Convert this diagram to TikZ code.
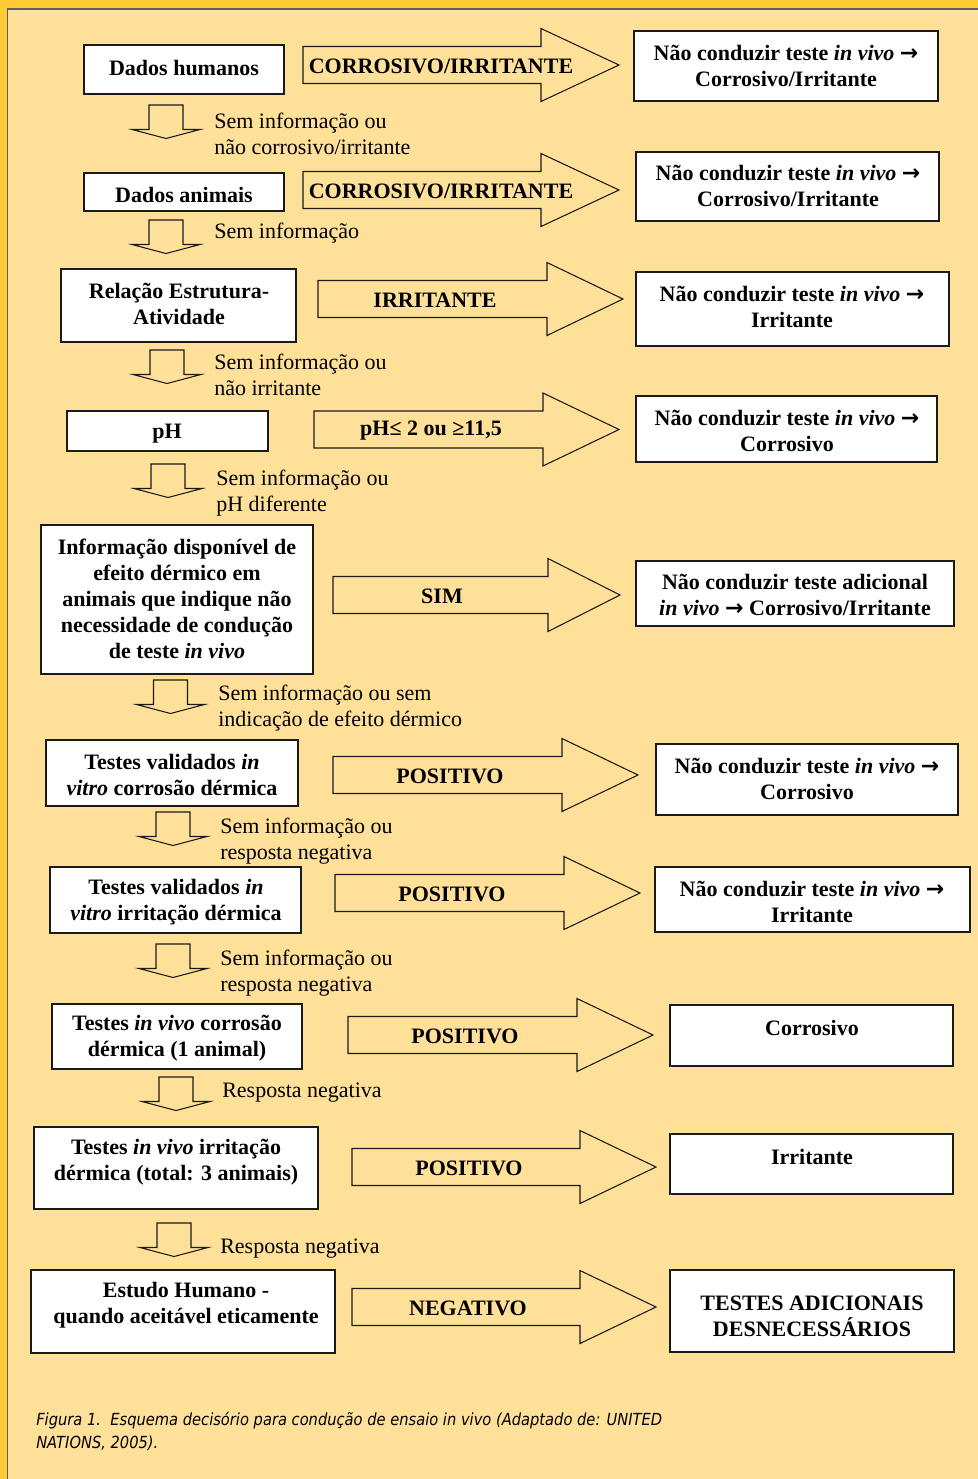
\documentclass[tikz,border=0pt]{standalone}
\usepackage{fontspec}
\setmainfont{Liberation Serif}
\newfontfamily\capfont[FakeStretch=0.88]{DejaVu Sans}
\newfontfamily\arrfont{DejaVu Sans}
\definecolor{panel}{HTML}{FFE099}
\definecolor{frameyellow}{HTML}{FFCC33}
\definecolor{ink}{HTML}{1A1A1A}
\newcommand\arr{{\arrfont\bfseries →}}
\newcommand\iv{\textit{in vivo}}
\tikzset{
  box/.style={draw=ink, line width=0.9pt, fill=white, inner sep=0pt},
  btxt/.style={font=\fontsize{16.5}{19.5}\selectfont\bfseries, align=center, inner sep=0pt, text=black},
  ltxt/.style={font=\fontsize{16.5}{19.5}\selectfont, align=left, anchor=west, inner sep=0pt, text=black},
  blk/.style={draw=ink, line width=0.8pt, line join=miter},
  captxt/.style={font=\capfont\itshape\fontsize{12.5}{17.25}\selectfont, align=left, anchor=north west, inner sep=0pt, text=black},
}
% box: name, x1, y1, x2, y2
\newcommand\bx[5]{\node[box, minimum width={(#4-#2)*0.75pt}, minimum height={(#5-#3)*0.75pt}] (#1) at ({(#2+#4)/2},{(#3+#5)/2}) {};}
% right block arrow: name, xleft, xheadbase, xtip, ycenter, text x, text
\newcommand\rarr[7]{%
  \draw[blk] (#2,#5-18.5) -- (#3,#5-18.5) -- (#3,#5-36.5) -- (#4,#5) -- (#3,#5+36.5) -- (#3,#5+18.5) -- (#2,#5+18.5) -- cycle;
  \node[btxt] (#1) at (#6,#5+1.5) {#7};}
% down block arrow: name, xcenter, ytop
\newcommand\darr[3]{%
  \coordinate (#1) at (#2,#3);
  \draw[blk] (#2-17,#3) -- (#2+17,#3) -- (#2+17,#3+24.5) -- (#2+34,#3+24.5) -- (#2,#3+33.5) -- (#2-34,#3+24.5) -- (#2-17,#3+24.5) -- cycle;}
\begin{document}
\begin{tikzpicture}[x=0.75pt,y=-0.75pt]
\useasboundingbox (0,0) rectangle (978,1479);
% frame
\fill[panel] (0,0) rectangle (978,1479);
\fill[frameyellow] (0,0) rectangle (978,9);
\fill[frameyellow] (0,0) rectangle (7.5,1479);
\draw[ink!70, line width=0.8pt] (978,9) -- (7.8,9) -- (7.8,1479);

% ---------- left boxes ----------
\bx{b1}{84}{45}{284}{94}
\node[btxt] at (184,68) {Dados humanos};
\bx{b2}{84}{173}{284}{211}
\node[btxt] at (184,195) {Dados animais};
\bx{b3}{61}{269}{296}{342}
\node[btxt] at (179,304) {Relação Estrutura-\\Atividade};
\bx{b4}{67}{411}{268}{451}
\node[btxt] at (167,433.5) {pH};
\bx{b5}{41}{525}{313}{674}
\node[btxt] at (177,599) {Informação disponível de\\efeito dérmico em\\animais que indique não\\necessidade de condução\\de teste \iv};
\bx{b6}{46}{740}{298}{806}
\node[btxt] at (172,775) {Testes validados \textit{in}\\\textit{vitro} corrosão dérmica};
\bx{b7}{50}{867}{301}{933}
\node[btxt] at (176,902) {Testes validados \textit{in}\\\textit{vitro} irritação dérmica};
\bx{b8}{52}{1004}{302}{1069}
\node[btxt] at (177,1038) {Testes \iv\ corrosão\\dérmica (1 animal)};
\bx{b9}{34}{1127}{318}{1209}
\node[btxt] at (176,1162) {Testes \iv\ irritação\\dérmica (total: 3 animais)};
\bx{b10}{31}{1270}{335}{1353}
\node[btxt] at (186,1305) {Estudo Humano -\\quando aceitável eticamente};

% ---------- right boxes ----------
\bx{r1}{634}{31}{938}{101}
\node[btxt] at (786,66) {Não conduzir teste \iv\ \arr\\Corrosivo/Irritante};
\bx{r2}{636}{152}{939}{221}
\node[btxt] at (788,186) {Não conduzir teste \iv\ \arr\\Corrosivo/Irritante};
\bx{r3}{636}{272}{949}{346}
\node[btxt] at (792,307) {Não conduzir teste \iv\ \arr\\Irritante};
\bx{r4}{636}{396}{937}{462}
\node[btxt] at (787,431) {Não conduzir teste \iv\ \arr\\Corrosivo};
\bx{r5}{636}{561}{954}{626}
\node[btxt] at (795,595) {Não conduzir teste adicional\\\iv\ \arr\ Corrosivo/Irritante};
\bx{r6}{656}{744}{958}{815}
\node[btxt] at (807,779) {Não conduzir teste \iv\ \arr\\Corrosivo};
\bx{r7}{655}{867}{970}{932}
\node[btxt] at (812,902) {Não conduzir teste \iv\ \arr\\Irritante};
\bx{r8}{670}{1005}{953}{1066}
\node[btxt] at (812,1028) {Corrosivo};
\bx{r9}{670}{1134}{953}{1194}
\node[btxt] at (812,1157) {Irritante};
\bx{r10}{670}{1270}{954}{1352}
\node[btxt] at (812,1316) {TESTES ADICIONAIS\\DESNECESSÁRIOS};

% ---------- right block arrows ----------
\rarr{a1}{303}{541}{619}{65}{441}{CORROSIVO/IRRITANTE}
\rarr{a2}{303}{541}{619}{190}{441}{CORROSIVO/IRRITANTE}
\rarr{a3}{318}{547}{623}{299}{435}{IRRITANTE}
\rarr{a4}{314}{543}{619}{429.5}{431}{pH≤ 2 ou ≥11,5}
\rarr{a5}{333}{548}{620}{595}{442}{SIM}
\rarr{a6}{333}{562}{638}{775}{450}{POSITIVO}
\rarr{a7}{335}{564}{640}{893}{452}{POSITIVO}
\rarr{a8}{348}{577}{653}{1035}{465}{POSITIVO}
\rarr{a9}{352}{580}{656}{1167}{469}{POSITIVO}
\rarr{a10}{352}{580}{656}{1307}{468}{NEGATIVO}

% ---------- down block arrows and labels ----------
\darr{d1}{166}{105}
\node[ltxt] at (214,134) {Sem informação ou\\não corrosivo/irritante};
\darr{d2}{166}{220}
\node[ltxt] at (214,233) {Sem informação};
\darr{d3}{167}{350}
\node[ltxt] at (214,375) {Sem informação ou\\não irritante};
\darr{d4}{168}{464}
\node[ltxt] at (216,493) {Sem informação ou\\pH diferente};
\darr{d5}{170.5}{680}
\node[ltxt] at (218,708) {Sem informação ou sem\\indicação de efeito dérmico};
\darr{d6}{173}{812}
\node[ltxt] at (220,841) {Sem informação ou\\resposta negativa};
\darr{d7}{173}{944}
\node[ltxt] at (220,973) {Sem informação ou\\resposta negativa};
\darr{d8}{176}{1077}
\node[ltxt] at (222,1093) {Resposta negativa};
\darr{d9}{174}{1223}
\node[ltxt] at (220,1249) {Resposta negativa};

% ---------- caption ----------
\node[captxt] (cap) at (36,1412) {Figura 1.\ \ Esquema decisório para condução de ensaio in vivo (Adaptado de: UNITED\\NATIONS, 2005).};
\end{tikzpicture}
\end{document}
